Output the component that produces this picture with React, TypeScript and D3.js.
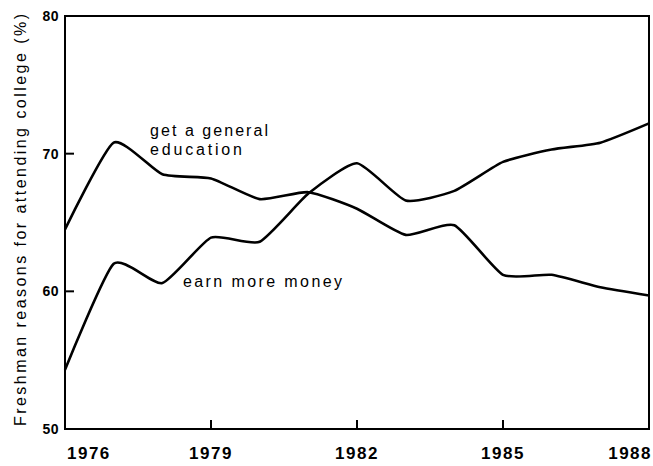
import * as d3 from 'd3';

// years on the x axis
const years = [1976, 1977, 1978, 1979, 1980, 1981, 1982, 1983, 1984, 1985, 1986, 1987, 1988];
// % of freshmen: "get a general education"
const education = [64.5, 70.8, 68.5, 68.2, 66.7, 67.2, 66.0, 64.1, 64.8, 61.2, 61.2, 60.3, 59.7];
// % of freshmen: "earn more money"
const money = [54.3, 62.0, 60.6, 63.9, 63.6, 67.1, 69.3, 66.6, 67.3, 69.4, 70.3, 70.8, 72.2];
const xTicks = [1976, 1979, 1982, 1985, 1988];
const yTicks = [50, 60, 70, 80];

const W = 653;
const H = 466;
const left = 65, right = 649, top = 16, bottom = 429;
const font = '"Liberation Sans", Arial, sans-serif';

const App = () => {
  const x = d3.scaleLinear().domain([1976, 1988]).range([left, right]);
  const y = d3.scaleLinear().domain([50, 80]).range([bottom, top]);

  const line = d3.line<number>()
    .x((_, i) => x(years[i]))
    .y(d => y(d))
    .curve(d3.curveCardinal.tension(0.45));

  return (
    <svg width={W} height={H} style={{ position: 'absolute', left: 0, top: 0, background: '#fff' }}>
      {/* frame */}
      <rect x={left} y={top} width={right - left} height={bottom - top} fill="none" stroke="#000" strokeWidth={2} />

      {/* y ticks */}
      {yTicks.map(t => (
        <g key={t}>
          {t > 50 && t < 80 && <line x1={left} x2={left + 9} y1={y(t)} y2={y(t)} stroke="#000" strokeWidth={2} />}
          <text x={59} y={y(t)} dy="0.36em" textAnchor="end" fontFamily={font} fontWeight="bold" fontSize={14} letterSpacing={0.5}>{t}</text>
        </g>
      ))}

      {/* x ticks */}
      {xTicks.map((t, i) => {
        const first = i === 0;
        const last = i === xTicks.length - 1;
        return (
          <g key={t}>
            {!first && !last && <line x1={x(t)} x2={x(t)} y1={bottom} y2={bottom - 9} stroke="#000" strokeWidth={2} />}
            <text
              x={first ? x(t) + 2 : last ? x(t) + 3 : x(t)}
              y={459}
              textAnchor={first ? 'start' : last ? 'end' : 'middle'}
              fontFamily={font} fontWeight="bold" fontSize={17} letterSpacing={1.5}
            >{t}</text>
          </g>
        );
      })}

      {/* y axis title */}
      <text
        transform={`translate(26, ${(13 + 427) / 2}) rotate(-90)`}
        textAnchor="middle" fontFamily={font} fontSize={16} fill="#000"
        textLength={412} lengthAdjust="spacing"
      >Freshman reasons for attending college (%)</text>

      {/* series */}
      <path d={line(education) ?? ''} fill="none" stroke="#000" strokeWidth={2.6} strokeLinejoin="round" />
      <path d={line(money) ?? ''} fill="none" stroke="#000" strokeWidth={2.6} strokeLinejoin="round" />

      {/* labels */}
      <text x={150} y={136} fontFamily={font} fontSize={16} textLength={118} lengthAdjust="spacing">get a general</text>
      <text x={150} y={155} fontFamily={font} fontSize={16} textLength={92} lengthAdjust="spacing">education</text>
      <text x={183} y={287} fontFamily={font} fontSize={16} textLength={159} lengthAdjust="spacing">earn more money</text>
    </svg>
  );
};

export default App;
